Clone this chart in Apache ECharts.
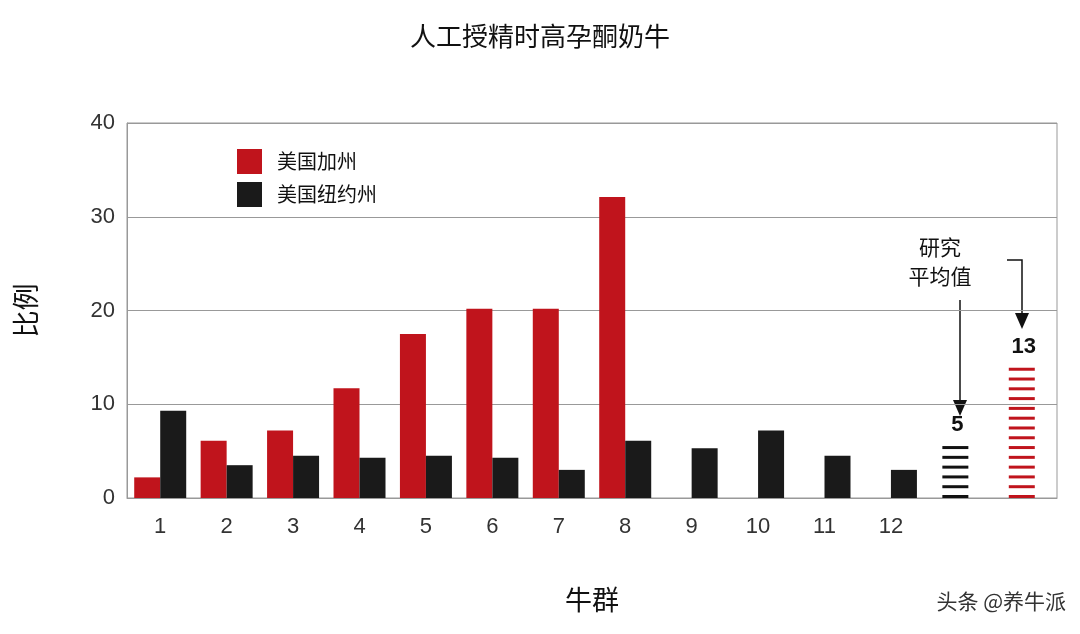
<!DOCTYPE html>
<html><head><meta charset="utf-8">
<script src="https://cdn.jsdelivr.net/npm/echarts@6/dist/echarts.min.js"></script>
<style>html,body{margin:0;padding:0;background:#fff}#c{width:1080px;height:634px}</style>
</head><body><div id="c"></div>
<script>
const herds = ['1','2','3','4','5','6','7','8','9','10','11','12','',''];
const california = [2.2, 6.1, 7.2, 11.7, 17.5, 20.2, 20.2, 32.1, '-', '-', '-', '-', '-', '-'];
const newYork = [9.3, 3.5, 4.5, 4.3, 4.5, 4.3, 3.0, 6.1, 5.3, 7.2, 4.5, 3.0, '-', '-'];
const avgNewYork = ['-', '-', '-', '-', '-', '-', '-', '-', '-', '-', '-', '-', 5, '-'];
const avgCalifornia = ['-', '-', '-', '-', '-', '-', '-', '-', '-', '-', '-', '-', '-', 13];

const font = 'Liberation Sans, Noto Sans CJK SC, sans-serif';
const cjk = 'Noto Sans CJK SC, sans-serif';

const stripes = (color) => ({
    type: 'pictorialBar',
    symbol: 'rect',
    symbolRepeat: true,
    symbolSize: [26, 3],
    symbolMargin: 3.5,
    symbolPosition: 'start',
    symbolOffset: [-2, 0],
    itemStyle: { color: color },
    label: {
        show: true, position: 'top', distance: 10,
        fontFamily: font, fontWeight: 'bold', fontSize: 22, color: '#111'
    },
    z: 3
});

const option = {
    animation: false,
    title: {
        text: '人工授精时高孕酮奶牛', left: 'center', top: 18,
        textStyle: { fontFamily: cjk, fontSize: 26, fontWeight: 'normal', color: '#111' }
    },
    legend: {
        orient: 'vertical', left: 232, top: 144, itemWidth: 25, itemHeight: 25, itemGap: 8,
        icon: 'rect',
        data: ['美国加州', '美国纽约州'],
        textStyle: { fontFamily: cjk, fontSize: 20, color: '#111', padding: [0, 0, 0, 10] }
    },
    grid: {
        left: 127, right: 23, top: 123, bottom: 136,
        show: true, borderColor: '#999', borderWidth: 1
    },
    xAxis: {
        type: 'category', data: herds,
        name: '牛群', nameLocation: 'middle', nameGap: 88,
        nameTextStyle: { fontFamily: cjk, fontSize: 27, color: '#111' },
        axisLine: { lineStyle: { color: '#999' } },
        axisTick: { show: false },
        axisLabel: { fontFamily: font, fontSize: 22, color: '#333', margin: 18 }
    },
    yAxis: {
        type: 'value', min: 0, max: 40, interval: 10,
        name: '比例', nameLocation: 'middle', nameGap: 88, nameRotate: 90,
        nameTextStyle: { fontFamily: cjk, fontSize: 27, color: '#111' },
        axisLine: { show: true, lineStyle: { color: '#999' } },
        splitLine: { lineStyle: { color: '#999' } },
        axisLabel: { fontFamily: font, fontSize: 22, color: '#333', margin: 12 }
    },
    series: [
        { name: '美国加州', type: 'bar', data: california, barWidth: 26, barGap: '0%', itemStyle: { color: '#c0141c' } },
        { name: '美国纽约州', type: 'bar', data: newYork, barWidth: 26, itemStyle: { color: '#1a1a1a' } },
        Object.assign(stripes('#111'), { data: avgNewYork }),
        Object.assign(stripes('#c0141c'), { data: avgCalifornia })
    ],
    graphic: [
        { type: 'text', x: 940, y: 233, style: { text: '研究\n平均值', fontFamily: cjk, fontSize: 21, fill: '#111', align: 'center', lineHeight: 29 } },
        { type: 'line', shape: { x1: 960, y1: 300, x2: 960, y2: 405 }, style: { stroke: '#111', lineWidth: 1.5 } },
        { type: 'polygon', shape: { points: [[953, 400], [967, 400], [960, 416]] }, style: { fill: '#111' } },
        { type: 'polyline', shape: { points: [[1007, 260], [1022, 260], [1022, 318]] }, style: { stroke: '#111', lineWidth: 1.5, fill: null } },
        { type: 'polygon', shape: { points: [[1015, 313], [1029, 313], [1022, 329]] }, style: { fill: '#111' } },
        { type: 'text', right: 14, bottom: 22, style: { text: '头条 @养牛派', fontFamily: cjk, fontSize: 21, fill: '#333' } }
    ]
};

const myChart = echarts.init(document.getElementById('c'));
myChart.setOption(option);
</script></body></html>
